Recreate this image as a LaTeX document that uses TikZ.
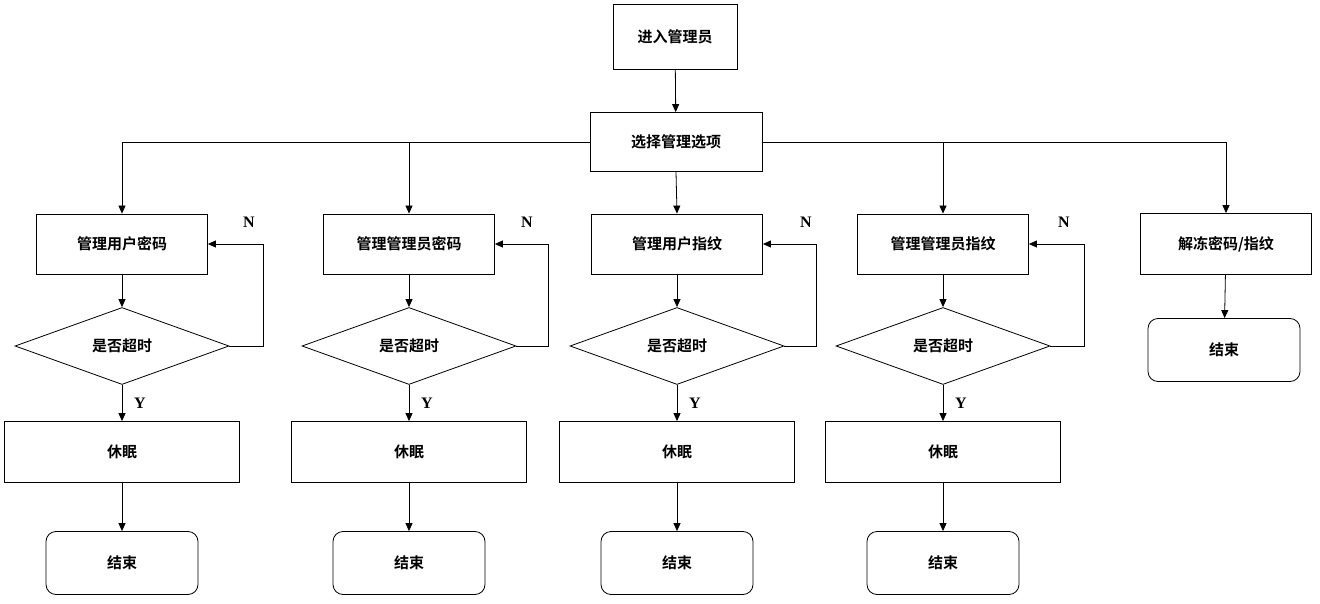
\documentclass[tikz,border=0pt]{standalone}
\usepackage{fontspec}
\newfontfamily\cjk{Noto Sans CJK SC}[BoldFont={Noto Sans CJK SC Bold}]
\newfontfamily\lat{Liberation Serif}
\usetikzlibrary{shapes.geometric,arrows.meta,calc}
\begin{document}
\begin{tikzpicture}[x=1pt,y=-1pt,
  every node/.style={font=\cjk\bfseries\fontsize{15}{18}\selectfont},
  box/.style={draw,thick,rectangle,inner sep=0},
  term/.style={draw,thick,rounded corners=10pt,minimum width=152pt,minimum height=63pt,inner sep=0},
  dia/.style={draw,thick,diamond,minimum width=214pt,minimum height=77pt,inner sep=0},
  lab/.style={font=\lat\bfseries\fontsize{16}{18}\selectfont},
  arr/.style={thick,-{Triangle[length=8pt,width=7pt]}},
  ln/.style={thick}]
\useasboundingbox (0,0) rectangle (1320,604);
\node[box,minimum width=124pt,minimum height=65pt] (start) at (675,37) {进入管理员};
\node[box,minimum width=172pt,minimum height=59pt] (sel) at (676,142) {选择管理选项};
\draw[arr] (start) -- (sel);
\foreach \i/\x/\t/\nx/\lx in {1/122/管理用户密码/249/263, 2/409/管理管理员密码/527/548, 3/677/管理用户指纹/806/816, 4/943/管理管理员指纹/1064/1084}{
  \node[box,minimum width=171pt,minimum height=60pt] (b\i) at (\x,244) {\t};
  \node[dia] (d\i) at (\x,346) {是否超时};
  \node[box,minimum width=235pt,minimum height=61pt] (s\i) at (\x,452) {休眠};
  \node[term] (e\i) at (\x,563) {结束};
  \draw[arr] (b\i) -- (d\i);
  \draw[arr] (d\i) -- (s\i);
  \draw[arr] (s\i) -- (e\i);
  \coordinate (c\i) at (\lx,346);
  \draw[arr] (d\i.east) -- (c\i) |- (b\i.east);
  \node[lab] (n\i) at (\nx,222) {N};
  \node[lab] (y\i) at ($(\x,403)+(18,0)$) {Y};
}
\node[box,minimum width=171pt,minimum height=61pt] (b5) at (1226,244) {解冻密码/指纹};
\node[term] (e5) at (1224,350) {结束};
\draw[arr] (b5) -- (e5);
\draw[arr] (sel.west) -| (b1.north);
\draw[arr] (sel.west) -| (b2.north);
\draw[arr] (sel.south) -- (b3.north);
\draw[arr] (sel.east) -| (b4.north);
\draw[arr] (sel.east) -| (b5.north);
\end{tikzpicture}
\end{document}
